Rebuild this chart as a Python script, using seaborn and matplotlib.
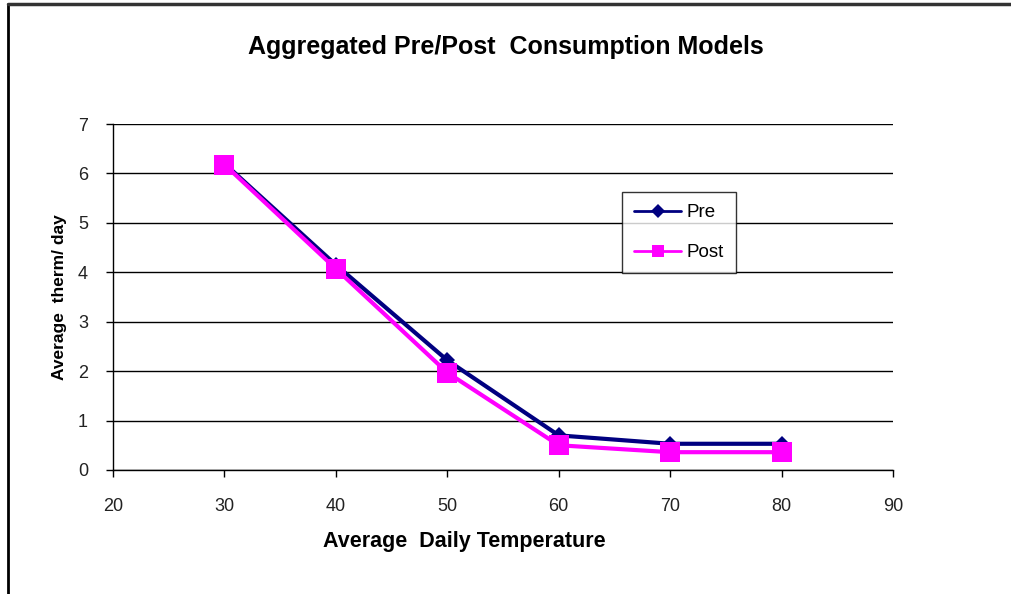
import matplotlib
matplotlib.use("Agg")
import matplotlib.pyplot as plt
import seaborn as sns
import pandas as pd
from matplotlib.lines import Line2D

temps = [30, 40, 50, 60, 70, 80]
pre = [6.2, 4.15, 2.22, 0.70, 0.53, 0.53]
post = [6.18, 4.07, 1.97, 0.50, 0.36, 0.36]
series_names = ["Pre", "Post"]
x_ticks = [20, 30, 40, 50, 60, 70, 80, 90]
y_ticks = [0, 1, 2, 3, 4, 5, 6, 7]

df = pd.DataFrame({
    "temp": temps * 2,
    "value": pre + post,
    "series": ["Pre"] * len(temps) + ["Post"] * len(temps),
})

sns.set_theme(style="white")
plt.rcParams["font.family"] = ["Liberation Sans", "DejaVu Sans"]
plt.rcParams["text.color"] = "black"

fig = plt.figure(figsize=(10.12, 5.94), dpi=100)
ax = fig.add_axes([0.1117, 0.2088, 0.7707, 0.5824])

palette = {"Pre": "#000080", "Post": "#FF00FF"}
markers = {"Pre": "D", "Post": "s"}
sns.lineplot(data=df, x="temp", y="value", hue="series", style="series",
             palette=palette, markers=markers, dashes=False,
             hue_order=series_names, style_order=series_names,
             linewidth=3, markersize=11, markeredgewidth=0, ax=ax, legend=False)
for line in ax.lines:
    if line.get_marker() == "s":
        line.set_markersize(14)
    else:
        line.set_markersize(8)

ax.set_xlim(20, 90)
ax.set_ylim(0, 7)
ax.set_xticks(x_ticks)
ax.set_yticks(y_ticks)
ax.yaxis.grid(True, color="black", linewidth=1)
ax.xaxis.grid(False)
ax.set_axisbelow(True)
for s in ["top", "right"]:
    ax.spines[s].set_visible(False)
for s in ["left", "bottom"]:
    ax.spines[s].set_color("black")
    ax.spines[s].set_linewidth(1)
ax.tick_params(axis="both", which="both", direction="out", length=5, width=1,
               colors="black", labelsize=13, bottom=True, left=True)
ax.tick_params(axis="x", pad=15)
ax.tick_params(axis="y", pad=13)
for lbl in ax.get_xticklabels() + ax.get_yticklabels():
    lbl.set_color("#222222")

ax.set_xlabel("Average  Daily Temperature", fontsize=15.5, fontweight="bold", labelpad=12,
              color="black")
ax.xaxis.set_label_coords(0.451, -0.177)
ax.set_ylabel("Average  therm/ day", fontsize=12.5, fontweight="bold", labelpad=8,
              color="black")

fig.text(0.5, 0.921, "Aggregated Pre/Post  Consumption Models", ha="center", va="center",
         fontsize=18, fontweight="bold", color="black")

handles = [Line2D([0], [0], color=palette[n], marker=markers[n], linewidth=2,
                  markersize=7 if n == "Pre" else 9, markeredgewidth=0) for n in series_names]
leg = ax.legend(handles, series_names, loc="upper left", bbox_to_anchor=(0.6525, 0.803),
                frameon=True, fancybox=False, edgecolor="black", fontsize=13.5,
                handlelength=2.5, borderpad=0.65, labelspacing=1.2, handletextpad=0.3,
                borderaxespad=0)
leg.get_frame().set_linewidth(1)

# figure frame (top and left edges visible)
fig.add_artist(Line2D([0.008, 0.008], [0, 0.993], transform=fig.transFigure, color="black", linewidth=2))
fig.add_artist(Line2D([0.008, 1.0], [0.993, 0.993], transform=fig.transFigure, color="#333333", linewidth=2.5))

fig.savefig("out.png", dpi=100)
